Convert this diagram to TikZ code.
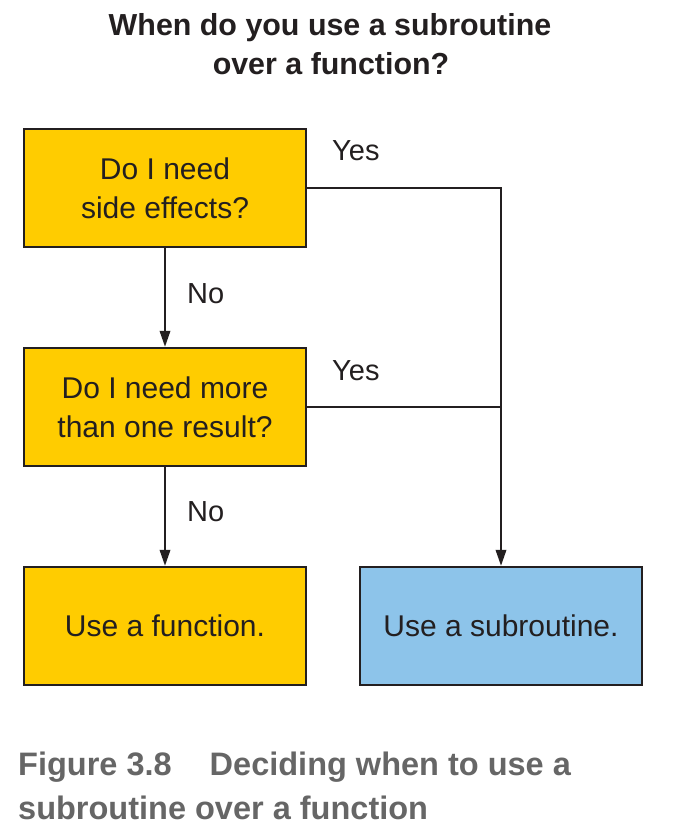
\documentclass[tikz,border=0pt]{standalone}
\usepackage{fontspec}
\setmainfont{Liberation Sans}
\usetikzlibrary{arrows.meta}
\definecolor{ink}{HTML}{231F20}
\definecolor{boxyellow}{HTML}{FFCC00}
\definecolor{boxblue}{HTML}{8DC4EA}
\definecolor{capgray}{HTML}{666666}
\tikzset{
  box/.style={draw=ink, line width=2.4pt, minimum width=282pt, minimum height=118pt,
    inner sep=0pt, align=center, text=ink, font=\fontsize{30}{39}\selectfont},
  yesbox/.style={box, fill=boxyellow},
  bluebox/.style={box, fill=boxblue},
  conn/.style={draw=ink, line width=2pt},
  arr/.style={conn, -{Triangle[length=16pt,width=10.5pt]}},
  lbl/.style={anchor=base west, inner sep=0pt, text=ink, font=\fontsize{29}{35}\selectfont},
}
\begin{document}
\begin{tikzpicture}[x=1pt,y=-1pt]
\useasboundingbox (0,0) rectangle (690,834);
% title
\node[anchor=base, inner sep=0pt, text=ink, font=\bfseries\fontsize{30.4}{39}\selectfont] (t1) at (330,36) {When do you use a subroutine};
\node[anchor=base, inner sep=0pt, text=ink, font=\bfseries\fontsize{30.4}{39}\selectfont] (t2) at (331,75) {over a function?};
% boxes
\node[yesbox] (b1) at (165,188) {Do I need\\side effects?};
\node[yesbox] (b2) at (165,407) {Do I need more\\than one result?};
\node[yesbox] (b3) at (165,626) {Use a function.};
\node[bluebox] (b4) at (501,626) {Use a subroutine.};
% connectors
\draw[arr] (b1) -- (b2);
\draw[arr] (b2) -- (b3);
\draw[arr] (b1.east) -| (b4.north);
\coordinate (j) at (b2.east -| b4.north);
\draw[conn] (b2.east) -- (j);
% labels
\node[lbl] (y1) at (332,161) {Yes};
\node[lbl] (n1) at (187,303) {No};
\node[lbl] (y2) at (332,380) {Yes};
\node[lbl] (n2) at (187,521) {No};
% caption
\node[anchor=base west, inner sep=0pt, text=capgray, font=\bfseries\fontsize{32.5}{44}\selectfont] (c1) at (18,775) {Figure 3.8\hspace{38pt}Deciding when to use a};
\node[anchor=base west, inner sep=0pt, text=capgray, font=\bfseries\fontsize{32.5}{44}\selectfont] (c2) at (18,819) {subroutine over a function};
\end{tikzpicture}
\end{document}
